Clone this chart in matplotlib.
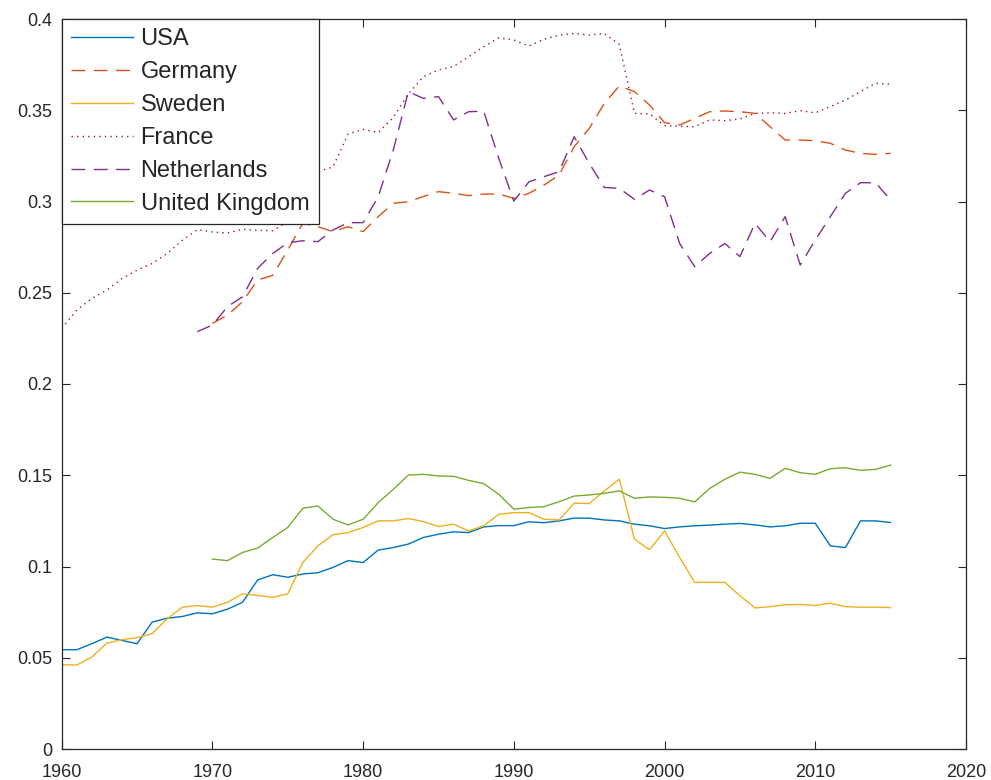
import matplotlib
matplotlib.use("Agg")
import matplotlib.pyplot as plt

plt.rcParams['font.family'] = ['Liberation Sans', 'DejaVu Sans']

years_all = list(range(1960, 2016))
years_70 = list(range(1970, 2016))
years_69 = list(range(1969, 2016))

usa = [0.0544, 0.0544, 0.0577, 0.0613, 0.0595, 0.0577, 0.0695, 0.0717, 0.0726, 0.0746,
       0.0741, 0.0766, 0.0804, 0.0926, 0.0955, 0.0941, 0.0959, 0.0966, 0.0995, 0.1032,
       0.1022, 0.1090, 0.1104, 0.1123, 0.1159, 0.1177, 0.1190, 0.1186, 0.1217, 0.1224,
       0.1224, 0.1245, 0.1240, 0.1250, 0.1265, 0.1265, 0.1255, 0.1250, 0.1232, 0.1223,
       0.1208, 0.1217, 0.1223, 0.1227, 0.1232, 0.1236, 0.1228, 0.1217, 0.1223, 0.1237,
       0.1237, 0.1113, 0.1104, 0.1250, 0.1250, 0.1241]

germany = [0.2332, 0.2378, 0.2451, 0.2570, 0.2595, 0.2734, 0.2881, 0.2862, 0.2835, 0.2862,
           0.2835, 0.2917, 0.2990, 0.2999, 0.3027, 0.3054, 0.3045, 0.3032, 0.3041, 0.3041,
           0.3017, 0.3045, 0.3090, 0.3145, 0.3300, 0.3400, 0.3538, 0.3633, 0.3602, 0.3529,
           0.3432, 0.3419, 0.3456, 0.3492, 0.3496, 0.3492, 0.3483, 0.3410, 0.3337, 0.3337,
           0.3333, 0.3319, 0.3282, 0.3264, 0.3258, 0.3264]

sweden = [0.0462, 0.0460, 0.0504, 0.0580, 0.0599, 0.0610, 0.0632, 0.0713, 0.0777, 0.0786,
          0.0777, 0.0804, 0.0850, 0.0841, 0.0831, 0.0850, 0.1022, 0.1114, 0.1174, 0.1186,
          0.1214, 0.1250, 0.1250, 0.1263, 0.1246, 0.1219, 0.1232, 0.1195, 0.1223, 0.1286,
          0.1295, 0.1295, 0.1259, 0.1255, 0.1347, 0.1345, 0.1414, 0.1478, 0.1150, 0.1092,
          0.1195, 0.1050, 0.0913, 0.0913, 0.0913, 0.0840, 0.0773, 0.0780, 0.0790, 0.0792,
          0.0786, 0.0799, 0.0780, 0.0777, 0.0777, 0.0775]

france = [0.2305, 0.2405, 0.2469, 0.2515, 0.2578, 0.2624, 0.2660, 0.2715, 0.2787, 0.2846,
          0.2833, 0.2827, 0.2848, 0.2842, 0.2840, 0.2890, 0.3050, 0.3163, 0.3190, 0.3370,
          0.3395, 0.3378, 0.3460, 0.3590, 0.3684, 0.3721, 0.3740, 0.3793, 0.3848, 0.3897,
          0.3885, 0.3852, 0.3889, 0.3912, 0.3921, 0.3912, 0.3921, 0.3860, 0.3483, 0.3480,
          0.3416, 0.3412, 0.3410, 0.3447, 0.3443, 0.3452, 0.3483, 0.3486, 0.3483, 0.3498,
          0.3486, 0.3520, 0.3556, 0.3602, 0.3648, 0.3642]

netherlands = [0.2287,
               0.2323, 0.2424, 0.2478, 0.2634, 0.2715, 0.2774, 0.2785, 0.2780, 0.2844, 0.2884,
               0.2884, 0.3026, 0.3282, 0.3602, 0.3565, 0.3575, 0.3447, 0.3492, 0.3495, 0.3236,
               0.3002, 0.3108, 0.3136, 0.3163, 0.3355, 0.3209, 0.3077, 0.3072, 0.3012, 0.3063,
               0.3026, 0.2770, 0.2643, 0.2716, 0.2770, 0.2698, 0.2880, 0.2780, 0.2917, 0.2652,
               0.2789, 0.2917, 0.3045, 0.3103, 0.3103, 0.3008]

uk = [0.1041, 0.1032, 0.1077, 0.1101, 0.1159, 0.1214, 0.1319, 0.1332, 0.1259, 0.1228,
      0.1259, 0.1350, 0.1423, 0.1501, 0.1505, 0.1496, 0.1494, 0.1472, 0.1454, 0.1396,
      0.1314, 0.1323, 0.1328, 0.1355, 0.1386, 0.1392, 0.1401, 0.1414, 0.1374, 0.1381,
      0.1379, 0.1374, 0.1354, 0.1428, 0.1478, 0.1517, 0.1505, 0.1483, 0.1538, 0.1514,
      0.1505, 0.1536, 0.1541, 0.1527, 0.1532, 0.1556]

labels = ['USA', 'Germany', 'Sweden', 'France', 'Netherlands', 'United Kingdom']
xticks = [1960, 1970, 1980, 1990, 2000, 2010, 2020]
yticks = [0, 0.05, 0.1, 0.15, 0.2, 0.25, 0.3, 0.35, 0.4]
ytick_labels = ['0', '0.05', '0.1', '0.15', '0.2', '0.25', '0.3', '0.35', '0.4']

W, H = 991, 780
fig = plt.figure(figsize=(W / 100, H / 100), dpi=100)
ax = fig.add_axes([61.7 / W, 31 / H, 904.3 / W, 730 / H])

lw = 1.0
ax.plot(years_all, usa, color='#0072BD', lw=lw, label=labels[0])
ax.plot(years_70, germany, color='#D95319', lw=lw, ls=(0, (10, 6)), label=labels[1])
ax.plot(years_all, sweden, color='#EDB120', lw=lw, label=labels[2])
ax.plot(years_all, france, color='#A2142F', lw=lw, ls=(0, (1, 3)), label=labels[3])
ax.plot(years_69, netherlands, color='#7E2F8E', lw=lw, ls=(0, (10, 6)), label=labels[4])
ax.plot(years_70, uk, color='#77AC30', lw=lw, label=labels[5])

ax.set_xlim(1960, 2020)
ax.set_ylim(0, 0.4)
ax.set_xticks(xticks)
ax.set_xticklabels([str(t) for t in xticks])
ax.set_yticks(yticks)
ax.set_yticklabels(ytick_labels)

dark = '#262626'
for s in ax.spines.values():
    s.set_color(dark)
    s.set_linewidth(0.9)
ax.tick_params(axis='both', direction='in', length=5.5, width=0.8, color=dark,
               labelcolor=dark, labelsize=13, top=True, right=True)
ax.tick_params(axis='x', pad=11)
ax.tick_params(axis='y', pad=6.5)

leg = ax.legend(loc='upper left', bbox_to_anchor=(0, 1), borderaxespad=0,
                fontsize=17, frameon=True, fancybox=False, shadow=False,
                handlelength=2.6, handletextpad=0.34, labelspacing=0.46,
                borderpad=0.4)
leg.get_frame().set_edgecolor(dark)
leg.get_frame().set_linewidth(0.9)
leg.get_frame().set_facecolor('white')
leg.get_frame().set_alpha(1)
for t in leg.get_texts():
    t.set_color(dark)

fig.savefig('out.png', dpi=100)
